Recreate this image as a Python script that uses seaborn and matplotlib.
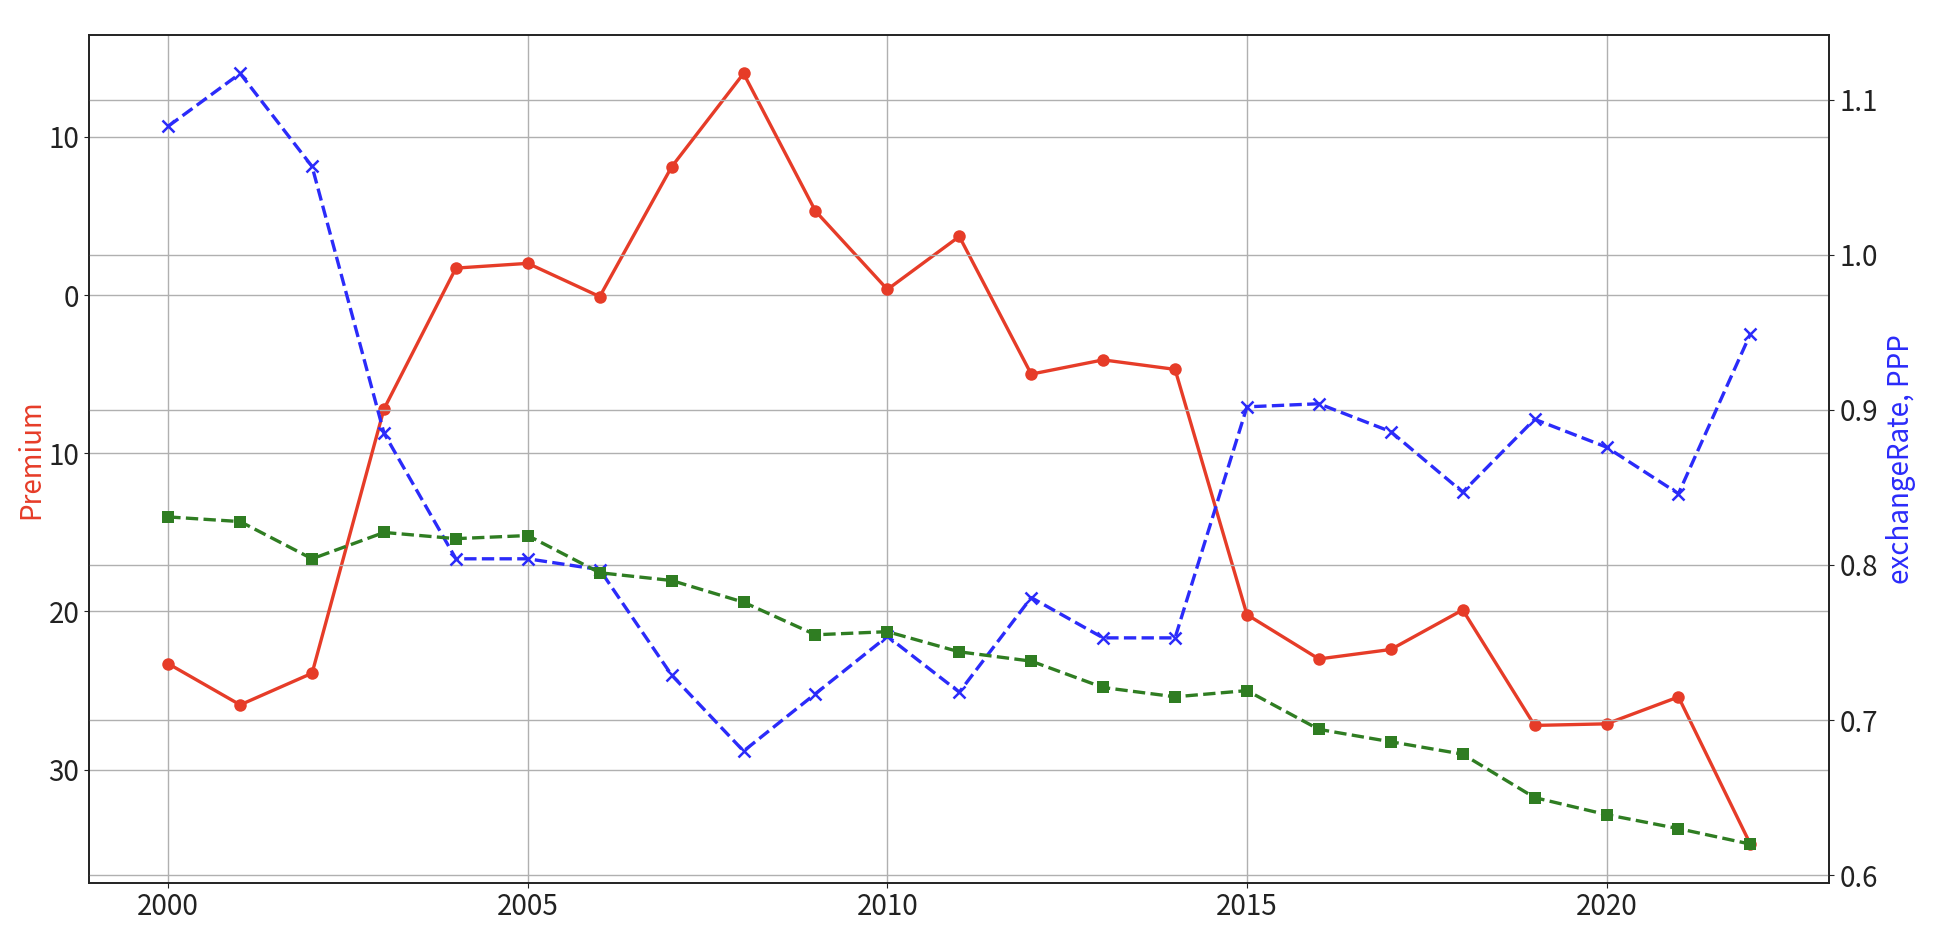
import matplotlib
matplotlib.use("Agg")
import matplotlib.pyplot as plt
import matplotlib.ticker as mticker
import pandas as pd
import seaborn as sns

years = list(range(2000, 2023))

premium = [-23.3, -25.9, -23.9, -7.2, 1.7, 2.0, -0.1, 8.1, 14.0, 5.3, 0.35, 3.7,
           -5.0, -4.1, -4.7, -20.2, -23.0, -22.4, -19.9, -27.2, -27.1, -25.4, -34.7]

exchange_rate = [1.083, 1.117, 1.057, 0.885, 0.804, 0.804, 0.797, 0.729, 0.680,
                 0.717, 0.754, 0.718, 0.779, 0.753, 0.753, 0.902, 0.904, 0.886,
                 0.847, 0.894, 0.876, 0.846, 0.949]

ppp = [0.831, 0.828, 0.804, 0.821, 0.817, 0.819, 0.795, 0.790, 0.776, 0.755,
       0.757, 0.744, 0.738, 0.721, 0.715, 0.719, 0.694, 0.686, 0.678, 0.650,
       0.639, 0.630, 0.620]

df = pd.DataFrame({"year": years, "premium": premium,
                   "exchangeRate": exchange_rate, "PPP": ppp})

sns.set_style("ticks")
plt.rcParams['font.family'] = ['Noto Sans CJK JP', 'DejaVu Sans']
plt.rcParams['font.size'] = 20

red = "#e63c28"
blue = "#2b2bfa"
green = "#2f7d22"

fig = plt.figure(figsize=(19.38, 9.44), dpi=100)
ax = fig.add_axes([0.046, 0.065, 0.898, 0.898])

sns.lineplot(data=df, x="year", y="premium", ax=ax, color=red, marker="o",
             markersize=9, markeredgecolor=red, markeredgewidth=0, linewidth=2.4)
ax.set_ylabel("Premium", color=red, fontsize=20, labelpad=2)
ax.set_xlabel("")
ax.grid(True, color="#b0b0b0", linewidth=1)
# the original font had no minus glyph, so negative ticks show without it
ax.yaxis.set_major_formatter(mticker.FuncFormatter(lambda v, p: f"{abs(v):g}"))
ax.tick_params(labelsize=20, colors="#222222")

ax2 = ax.twinx()
sns.lineplot(data=df, x="year", y="exchangeRate", ax=ax2, color=blue, marker="x",
             markersize=9, markeredgecolor=blue, markeredgewidth=1.8,
             linewidth=2.4, linestyle="--")
sns.lineplot(data=df, x="year", y="PPP", ax=ax2, color=green, marker="s",
             markersize=8, markeredgecolor=green, markeredgewidth=0,
             linewidth=2.4, linestyle="--")
ax2.set_ylabel("exchangeRate, PPP", color=blue, fontsize=20, labelpad=6)
ax2.grid(True, color="#b0b0b0", linewidth=1)
ax2.tick_params(labelsize=20, colors="#222222")

for a in (ax, ax2):
    for s in a.spines.values():
        s.set_color("#222222")
        s.set_linewidth(1.2)

ax.set_xticks([2000, 2005, 2010, 2015, 2020])

fig.savefig("out.png", dpi=100)
